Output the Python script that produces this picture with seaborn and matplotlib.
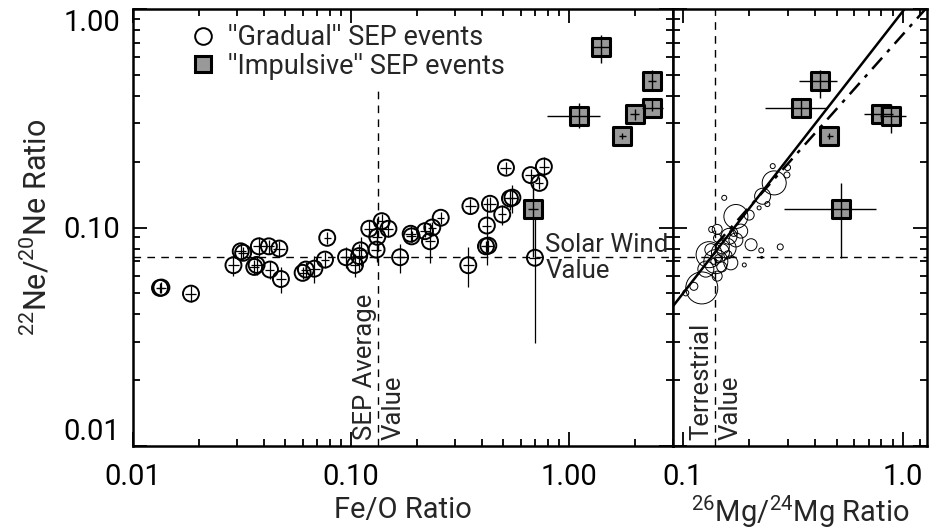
import numpy as np
import pandas as pd
import matplotlib
matplotlib.use("Agg")
import matplotlib.pyplot as plt
import seaborn as sns
from matplotlib.lines import Line2D
from matplotlib.ticker import FixedLocator, NullFormatter

# ---------------- data ----------------
# "Gradual" SEP events: Fe/O vs 22Ne/20Ne
grad_feo = [0.0133, 0.0135, 0.01845, 0.0289, 0.0312, 0.0320, 0.0360, 0.0369, 0.0378, 0.0420,
            0.0425, 0.0469, 0.0477, 0.0600, 0.0621, 0.0679, 0.0760, 0.0778, 0.0949, 0.1043,
            0.1090, 0.1107, 0.1213, 0.1310, 0.1320, 0.1383, 0.1485, 0.1680, 0.1878, 0.1897,
            0.2185, 0.2304, 0.2359, 0.2580, 0.3451, 0.3530, 0.4160, 0.4265, 0.4200, 0.4340,
            0.4940, 0.5140, 0.5360, 0.5500, 0.6670, 0.6980, 0.7310, 0.7670]
grad_ne = [0.0529, 0.0531, 0.0498, 0.0672, 0.0778, 0.0766, 0.0660, 0.0674, 0.0820, 0.0820,
           0.0642, 0.0801, 0.0581, 0.0620, 0.0642, 0.0648, 0.0713, 0.0897, 0.0731, 0.0674,
           0.0740, 0.0786, 0.0987, 0.0792, 0.0907, 0.1069, 0.0987, 0.0731, 0.0936, 0.0911,
           0.0962, 0.0865, 0.1000, 0.1108, 0.0672, 0.1253, 0.0820, 0.0826, 0.1021, 0.1284,
           0.1147, 0.1878, 0.1358, 0.1370, 0.1737, 0.0727, 0.1600, 0.1900]
grad_feo_err = [0.0006, 0.0006, 0.0011, 0.0017, 0.0018, 0.0018, 0.0020, 0.0020, 0.0022, 0.0025,
                0.0020, 0.0030, 0.0025, 0.0020, 0.0030, 0.0040, 0.0030, 0.0030, 0.0060, 0.0050,
                0.0050, 0.0060, 0.0070, 0.0070, 0.0070, 0.0060, 0.0080, 0.0120, 0.0100, 0.0100,
                0.0120, 0.0120, 0.0100, 0.0100, 0.0200, 0.0200, 0.0200, 0.0250, 0.0200, 0.0300,
                0.0200, 0.0300, 0.0300, 0.0300, 0.0400, 0.0400, 0.0300, 0.0400]
grad_ne_err = [0.003, 0.003, 0.004, 0.007, 0.006, 0.005, 0.005, 0.007, 0.008, 0.006,
               0.006, 0.007, 0.008, 0.004, 0.005, 0.009, 0.006, 0.006, 0.008, 0.008,
               0.010, 0.012, 0.010, 0.010, 0.020, 0.008, 0.008, 0.011, 0.008, 0.005,
               0.006, 0.018, 0.006, 0.007, 0.014, 0.010, 0.005, 0.005, 0.035, 0.010,
               0.012, 0.012, 0.015, 0.020, 0.012, 0.043, 0.010, 0.020]

# "Impulsive" SEP events
imp_ne = [0.667, 0.469, 0.354, 0.330, 0.324, 0.262, 0.121]
imp_ne_lo = [0.567, 0.430, 0.343, 0.310, 0.286, 0.255, 0.073]
imp_ne_hi = [0.760, 0.528, 0.393, 0.350, 0.372, 0.270, 0.160]
imp_feo = [1.397, 2.410, 2.400, 2.008, 1.112, 1.756, 0.686]
imp_feo_lo = [1.270, 2.300, 2.160, 1.900, 0.796, 1.700, 0.650]
imp_feo_hi = [1.540, 2.520, 2.710, 2.100, 1.390, 1.820, 0.720]
imp_mg = [np.nan, 0.4216, 0.3444, 0.799, 0.888, 0.4642, 0.525]
imp_mg_lo = [np.nan, 0.336, 0.237, 0.664, 0.790, 0.450, 0.289]
imp_mg_hi = [np.nan, 0.502, 0.4515, 0.901, 1.035, 0.480, 0.758]
imp_ne_mg_lo = [np.nan, 0.393, 0.320, 0.315, 0.272, 0.255, 0.0727]
imp_ne_mg_hi = [np.nan, 0.5275, 0.3928, 0.360, 0.367, 0.272, 0.1594]

# Gradual events: 26Mg/24Mg vs 22Ne/20Ne, circle size ~ uncertainty
grad_mg = [0.1217, 0.1029, 0.1120, 0.1430, 0.1740, 0.2040, 0.2270, 0.2770, 0.1900, 0.2280,
           0.1540, 0.2303, 0.2600, 0.2560, 0.2990, 0.2970, 0.2420, 0.2220, 0.2000, 0.1830,
           0.1620, 0.1314, 0.1410, 0.1570, 0.1270, 0.1430, 0.1650, 0.1510, 0.1435, 0.1338,
           0.1740, 0.1450, 0.1500, 0.1380, 0.1600, 0.1350, 0.1700, 0.1480]
grad_ne_mg = [0.0529, 0.0502, 0.0538, 0.0980, 0.1123, 0.0834, 0.0786, 0.0815, 0.0674, 0.0730,
              0.1367, 0.1390, 0.1600, 0.1910, 0.1880, 0.1740, 0.1280, 0.1230, 0.1140, 0.0963,
              0.0911, 0.0751, 0.0698, 0.0806, 0.0645, 0.0599, 0.0689, 0.0815, 0.0894, 0.0792,
              0.0877, 0.0720, 0.0660, 0.0700, 0.0750, 0.0980, 0.0950, 0.0770]
grad_mg_unc = [16, 3, 4, 5, 12, 6, 2.5, 3, 2, 1,
               2.5, 8, 12, 2.5, 3, 3, 2.5, 2, 5, 7,
               8, 13, 12, 10, 8, 5, 7, 7, 4, 6,
               7, 4, 5, 3, 4, 3, 4, 9]

# reference values
sep_avg_feo = 0.133
solar_wind_ne = 0.073
terrestrial_mg = 0.1394
# mass-fractionation relations (power laws in log-log space)
fit_solid_pivot, fit_solid_slope = 1.02, 1.29
fit_dd_pivot, fit_dd_slope = 1.27, 1.13

# ---------------- style ----------------
sns.set_theme(style="ticks")
plt.rcParams["font.family"] = ["Roboto", "DejaVu Sans"]
plt.rcParams["mathtext.fontset"] = "custom"
plt.rcParams["mathtext.rm"] = "Roboto"
plt.rcParams["mathtext.it"] = "Roboto"
plt.rcParams["axes.linewidth"] = 1.8

W, H = 931, 529
fig = plt.figure(figsize=(W / 100, H / 100), dpi=100)
fig.patch.set_facecolor("white")
axL = fig.add_axes([133 / W, 1 - 446 / H, 540 / W, 437 / H])
axR = fig.add_axes([673 / W, 1 - 446 / H, 254 / W, 437 / H])

TICKFS = 21
ANNFS = 18.5
LEGFS = 19.5
GRAY = "#999999"

for ax in (axL, axR):
    ax.set_xscale("log")
    ax.set_yscale("log")
    ax.set_ylim(0.01, 1.0)
    ax.set_facecolor("white")
    for sp in ax.spines.values():
        sp.set_visible(True)
        sp.set_color("black")
        sp.set_linewidth(1.8)

axL.set_xlim(0.01, 3.0)
axR.set_xlim(0.09, 1.29)

dash = (0, (5.5, 4.5))

# ---- left panel ----
gdf = pd.DataFrame({"feo": grad_feo, "ne": grad_ne})
idf = pd.DataFrame({"feo": imp_feo, "ne": imp_ne})

axL.axhline(solar_wind_ne, color="black", lw=1.0, linestyle=dash, zorder=1)
ytop = (np.log10(0.45) - np.log10(0.01)) / (np.log10(1.0) - np.log10(0.01))
axL.axvline(sep_avg_feo, ymin=0, ymax=ytop, color="black", lw=1.0, linestyle=dash, zorder=1)

sns.scatterplot(data=gdf, x="feo", y="ne", ax=axL, marker="o", s=11.5 ** 2,
                facecolor="none", edgecolor="black", linewidth=1.4, zorder=3, legend=False)
axL.errorbar(grad_feo, grad_ne, xerr=grad_feo_err, yerr=grad_ne_err, fmt="none",
             ecolor="black", elinewidth=0.9, capsize=0, zorder=4)

sns.scatterplot(data=idf, x="feo", y="ne", ax=axL, marker="s", s=12.5 ** 2,
                color=GRAY, edgecolor="black", linewidth=2.2, zorder=5, legend=False)
axL.errorbar(imp_feo, imp_ne,
             xerr=[np.array(imp_feo) - np.array(imp_feo_lo), np.array(imp_feo_hi) - np.array(imp_feo)],
             yerr=[np.array(imp_ne) - np.array(imp_ne_lo), np.array(imp_ne_hi) - np.array(imp_ne)],
             fmt="none", ecolor="black", elinewidth=1.0, capsize=0, zorder=6)

axL.text(sep_avg_feo * 0.985, 0.0106, "SEP Average", rotation=90, ha="right", va="bottom",
         fontsize=ANNFS, zorder=7)
axL.text(sep_avg_feo * 1.04, 0.0106, "Value", rotation=90, ha="left", va="bottom",
         fontsize=ANNFS, zorder=7)
axL.text(0.78, solar_wind_ne * 1.0, "Solar Wind", ha="left", va="bottom", fontsize=ANNFS, zorder=7)
axL.text(0.78, solar_wind_ne * 0.985, "Value", ha="left", va="top", fontsize=ANNFS, zorder=7)

handles = [Line2D([], [], marker="o", linestyle="none", markersize=12, markerfacecolor="none",
                  markeredgecolor="black", markeredgewidth=1.4),
           Line2D([], [], marker="s", linestyle="none", markersize=12, markerfacecolor=GRAY,
                  markeredgecolor="black", markeredgewidth=2.2)]
axL.legend(handles, ["''Gradual'' SEP events", "''Impulsive'' SEP events"], loc="upper left",
           bbox_to_anchor=(0.085, 0.99), frameon=False, fontsize=LEGFS, handlelength=1.0,
           handletextpad=0.4, labelspacing=0.05, borderaxespad=0.0)

# ---- right panel ----
mdf = pd.DataFrame({"mg": grad_mg, "ne": grad_ne_mg, "unc": np.array(grad_mg_unc) ** 2})
axR.axhline(solar_wind_ne, color="black", lw=1.0, linestyle=dash, zorder=1)
axR.axvline(terrestrial_mg, color="black", lw=1.0, linestyle=dash, zorder=1)

umin, umax = min(grad_mg_unc), max(grad_mg_unc)
sns.scatterplot(data=mdf, x="mg", y="ne", size="unc", ax=axR, marker="o",
                sizes=((1.44 * umin) ** 2, (1.44 * umax) ** 2),
                size_norm=(umin ** 2, umax ** 2),
                facecolor="none", edgecolor="black", linewidth=0.7, zorder=3, legend=False)

xs = np.array(axR.get_xlim())
solid = pd.DataFrame({"x": xs, "y": (xs / fit_solid_pivot) ** fit_solid_slope})
xd = np.array([0.14, axR.get_xlim()[1]])
ddash = pd.DataFrame({"x": xd, "y": (xd / fit_dd_pivot) ** fit_dd_slope})
sns.lineplot(data=solid, x="x", y="y", ax=axR, color="black", lw=1.8, estimator=None,
             sort=False, zorder=4)
sns.lineplot(data=ddash, x="x", y="y", ax=axR, color="black", lw=1.8, estimator=None,
             sort=False, zorder=4, linestyle=(0, (6, 3, 1.5, 3)))

rdf = pd.DataFrame({"mg": imp_mg, "ne": imp_ne}).dropna()
sns.scatterplot(data=rdf, x="mg", y="ne", ax=axR, marker="s", s=12.5 ** 2,
                color=GRAY, edgecolor="black", linewidth=2.2, zorder=5, legend=False)
mg = np.array(imp_mg); ne = np.array(imp_ne)
ok = ~np.isnan(mg)
axR.errorbar(mg[ok], ne[ok],
             xerr=[mg[ok] - np.array(imp_mg_lo)[ok], np.array(imp_mg_hi)[ok] - mg[ok]],
             yerr=[ne[ok] - np.array(imp_ne_mg_lo)[ok], np.array(imp_ne_mg_hi)[ok] - ne[ok]],
             fmt="none", ecolor="black", elinewidth=1.0, capsize=0, zorder=6)

axR.text(terrestrial_mg * 0.985, 0.0106, "Terrestrial", rotation=90, ha="right", va="bottom",
         fontsize=ANNFS, zorder=7)
axR.text(terrestrial_mg * 1.04, 0.0106, "Value", rotation=90, ha="left", va="bottom",
         fontsize=ANNFS, zorder=7)

# ---- ticks ----
minors_y = [m * 10.0 ** e for e in (-2, -1) for m in range(2, 10)]
for ax in (axL, axR):
    ax.yaxis.set_major_locator(FixedLocator([0.01, 0.1, 1.0]))
    ax.yaxis.set_minor_locator(FixedLocator(minors_y))
    ax.yaxis.set_minor_formatter(NullFormatter())
    ax.xaxis.set_minor_formatter(NullFormatter())
    ax.tick_params(which="both", direction="in", top=True, right=True, bottom=True, left=True,
                   width=1.3, colors="black", labelsize=TICKFS)
    ax.tick_params(which="major", length=10)
    ax.tick_params(which="minor", length=5)
    ax.set_xlabel("")
    ax.set_ylabel("")

axL.xaxis.set_major_locator(FixedLocator([0.01, 0.1, 1.0]))
axL.xaxis.set_minor_locator(FixedLocator([m * 10.0 ** e for e in (-2, -1, 0) for m in range(2, 10)
                                          if m * 10.0 ** e < 3.0]))
axL.set_xticklabels(["0.01", "0.10", "1.00"])
axL.set_yticklabels(["0.01", "0.10", "1.00"])
axL.tick_params(axis="y", pad=9)
axL.tick_params(axis="x", pad=12)

axR.xaxis.set_major_locator(FixedLocator([0.1, 1.0]))
axR.xaxis.set_minor_locator(FixedLocator([0.09] + [m * 0.1 for m in range(2, 10)] + [1.2]))
axR.set_xticklabels(["0.1", "1.0"])
axR.tick_params(axis="y", labelleft=False)
axR.tick_params(axis="x", pad=12)

ylabs = axL.get_yticklabels()
ylabs[0].set_va("bottom")
ylabs[-1].set_va("top")

axL.set_xlabel("Fe/O Ratio", fontsize=TICKFS, labelpad=4)
axR.set_xlabel(r"$^{26}$Mg/$^{24}$Mg Ratio", fontsize=TICKFS, labelpad=2)
axL.set_ylabel(r"$^{22}$Ne/$^{20}$Ne Ratio", fontsize=22, labelpad=8)

fig.savefig("out.png", dpi=100, facecolor="white")
